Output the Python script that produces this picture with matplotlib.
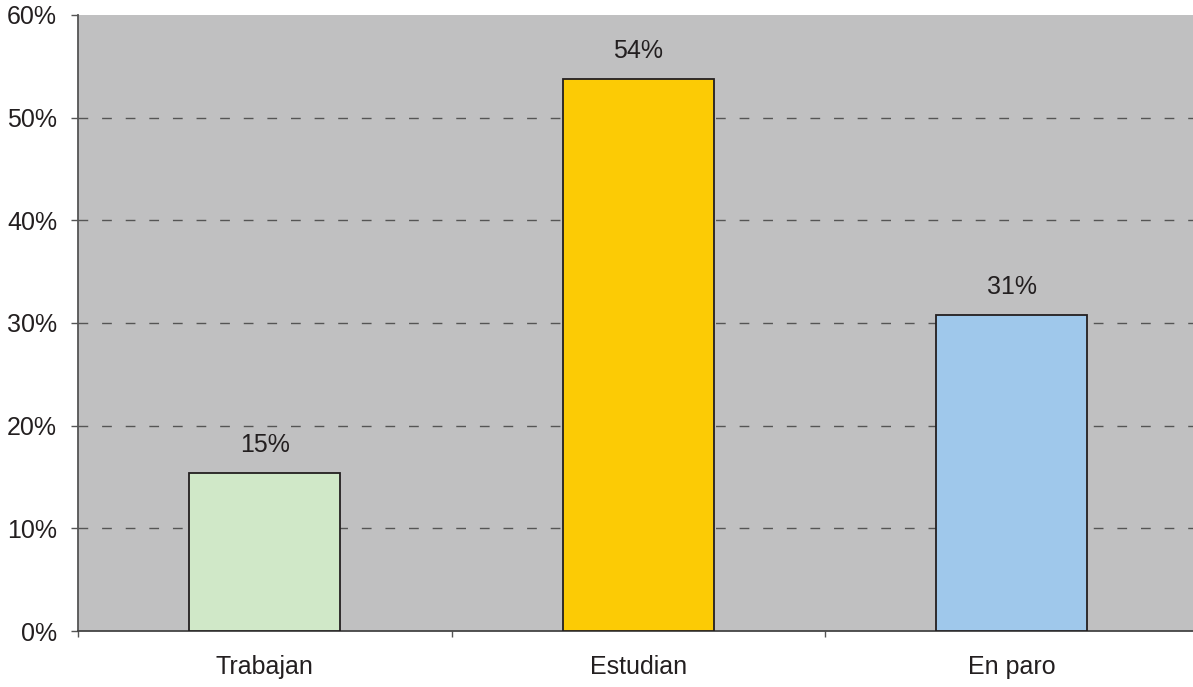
import numpy as np
import matplotlib
matplotlib.use("Agg")
import matplotlib.pyplot as plt
from matplotlib.ticker import FixedLocator, FuncFormatter

categorias = ["Trabajan", "Estudian", "En paro"]
valores = [15.4, 53.8, 30.8]
etiquetas = ["15%", "54%", "31%"]
colores = ["#D0E8C8", "#FCCB05", "#9FC8EB"]
yticks = [0, 10, 20, 30, 40, 50, 60]

plt.rcParams['font.family'] = ['Liberation Sans', 'DejaVu Sans']
texto = "#231F20"

fig = plt.figure(figsize=(11.93, 6.87), dpi=100)
# la zona del grafico sigue un poco fuera de la imagen por la derecha
ax = fig.add_axes([0.0654, 0.0815, 0.9392, 0.8967])
ax.set_facecolor("#C0C0C1")

x = np.arange(len(categorias))
ax.bar(x, valores, width=0.404, color=colores, edgecolor="#231F20", linewidth=1.3, zorder=3)

for xi, v, lab in zip(x, valores, etiquetas):
    ax.text(xi, v + 1.5, lab, ha="center", va="bottom", fontsize=18, color=texto)

ax.set_xlim(-0.5, 2.5)
ax.set_ylim(0, 60)

for y in yticks[1:-1]:
    ax.axhline(y, color="#555555", linewidth=1, linestyle=(0, (7, 10)), zorder=1)

ax.yaxis.set_major_locator(FixedLocator(yticks))
ax.yaxis.set_major_formatter(FuncFormatter(lambda v, p: f"{int(v)}%"))
ax.tick_params(axis="y", labelsize=18, labelcolor=texto, length=5, width=1, color="#555555", pad=10)

ax.set_xticks(x)
ax.set_xticklabels(categorias)
ax.tick_params(axis="x", which="major", length=0, labelsize=18, labelcolor=texto, pad=17)
ax.set_xticks([-0.5, 0.5, 1.5, 2.5], minor=True)
ax.tick_params(axis="x", which="minor", length=4.5, width=1, color="#555555")

for s in ["top", "right"]:
    ax.spines[s].set_visible(False)
ax.spines["left"].set_color("#555555")
ax.spines["bottom"].set_color("#444444")
ax.spines["left"].set_linewidth(1.3)
ax.spines["bottom"].set_linewidth(1.3)

fig.savefig("out.png", dpi=100)
